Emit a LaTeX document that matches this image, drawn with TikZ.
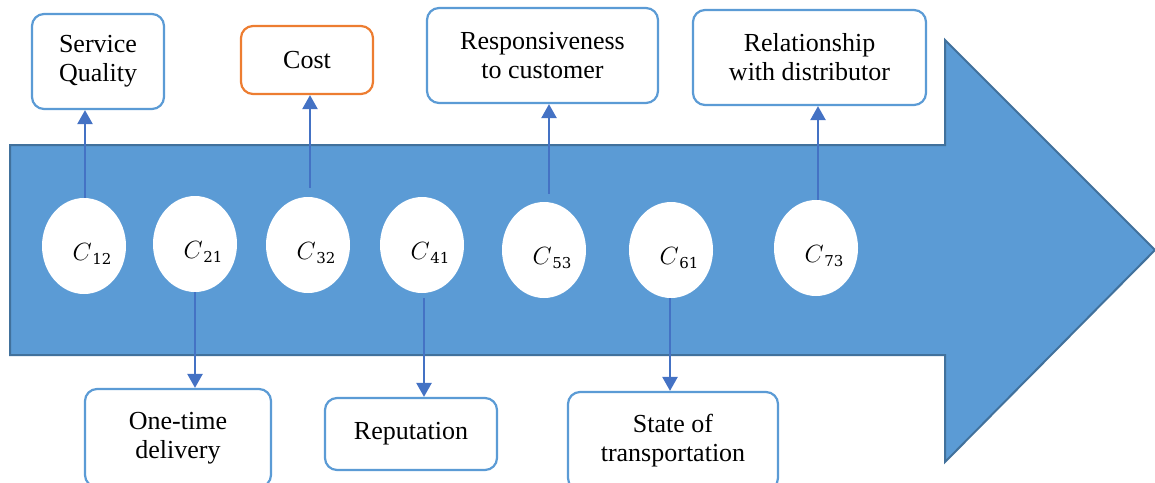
\documentclass[tikz,border=0pt]{standalone}
\usepackage{fontspec}
\setmainfont{Liberation Serif}
\newfontfamily\critdigits{DejaVu Serif}
\usetikzlibrary{arrows.meta,shapes.geometric}
\definecolor{arrowfill}{HTML}{5B9BD5}
\definecolor{arrowedge}{HTML}{41719C}
\definecolor{linkblue}{HTML}{4472C4}
\definecolor{boxblue}{HTML}{5B9BD5}
\definecolor{boxorange}{HTML}{ED7D31}
% criterion symbol: italic C with a subscript index
\newcommand\critsym[1]{{\fontsize{25}{28}\selectfont$C$}\kern0.5pt\raisebox{-4pt}{\critdigits\fontsize{15}{18}\selectfont #1}}

\begin{document}
\begin{tikzpicture}[x=1pt,y=-1pt,
  factor/.style={draw=boxblue, line width=2.2pt, rounded corners=12pt, fill=white,
    align=center, font=\fontsize{26}{29}\selectfont, inner sep=0pt},
  crit/.style={ellipse, fill=white, draw=none, minimum width=84pt,
    minimum height=96pt, inner sep=0pt},
  critlabel/.style={inner sep=0pt},
  link/.style={draw=linkblue, line width=2.4pt,
    -{Triangle[width=15pt,length=14pt]}}]
\useasboundingbox (0,0) rectangle (1155,482);

% big process arrow
\path[fill=arrowfill, draw=arrowedge, line width=2pt, line join=miter]
  (10,145) -- (945,145) -- (945,40) -- (1155,250) -- (945,462)
  -- (945,355) -- (10,355) -- cycle;

% criteria
\node[crit] (c12) at (84,246) {};
\node[crit] (c21) at (195,244) {};
\node[crit] (c32) at (308,245) {};
\node[crit] (c41) at (422,245) {};
\node[crit] (c53) at (544,250) {};
\node[crit] (c61) at (671,250) {};
\node[crit] (c73) at (816,248) {};

\node[critlabel] (l12) at (92,254) {\critsym{12}};
\node[critlabel] (l21) at (203,252) {\critsym{21}};
\node[critlabel] (l32) at (316,253) {\critsym{32}};
\node[critlabel] (l41) at (430,253) {\critsym{41}};
\node[critlabel] (l53) at (552,258) {\critsym{53}};
\node[critlabel] (l61) at (679,258) {\critsym{61}};
\node[critlabel] (l73) at (824,256) {\critsym{73}};

% factors above the arrow
\node[factor, minimum width=132pt, minimum height=95pt] (sq) at (98,61.5) {Service\\Quality};
\node[factor, draw=boxorange, minimum width=132pt, minimum height=68pt] (cost) at (307,60) {Cost};
\node[factor, minimum width=231pt, minimum height=95pt] (resp) at (542.5,55.5) {Responsiveness\\to customer};
\node[factor, minimum width=233pt, minimum height=95pt] (rel) at (809.5,57.5) {Relationship\\with distributor};

% factors below the arrow
\node[factor, minimum width=186pt, minimum height=98pt] (otd) at (178,438) {One-time\\delivery};
\node[factor, minimum width=172pt, minimum height=72pt] (rep) at (411,434) {Reputation};
\node[factor, minimum width=210pt, minimum height=98pt] (sot) at (673,441) {State of\\transportation};

% connectors
\draw[link] ([xshift=1pt]c12.north) -- ([xshift=1pt]c12.north |- sq.south);
\draw[link] ([xshift=2pt,yshift=9pt]c32.north) -- ([xshift=2pt]c32.north |- cost.south);
\draw[link] ([xshift=5pt,yshift=8pt]c53.north) -- ([xshift=5pt]c53.north |- resp.south);
\draw[link] ([xshift=2pt]c73.north) -- ([xshift=2pt]c73.north |- rel.south);
\draw[link] (c21.south) -- (c21.south |- otd.north);
\draw[link] ([xshift=2pt,yshift=-5pt]c41.south) -- ([xshift=2pt]c41.south |- rep.north);
\draw[link] ([xshift=-1pt]c61.south) -- ([xshift=-1pt]c61.south |- sot.north);
\end{tikzpicture}
\end{document}
